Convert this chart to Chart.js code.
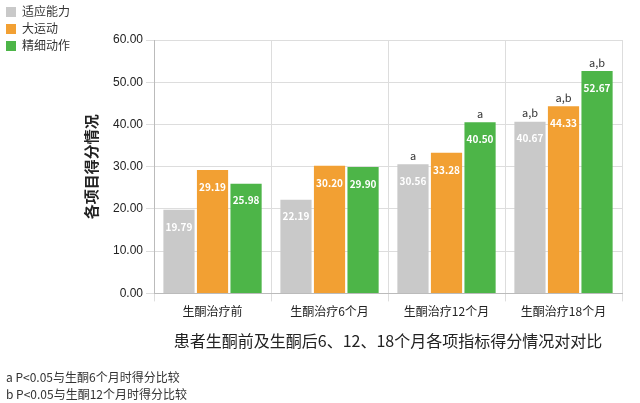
<!DOCTYPE html>
<html><head><meta charset="utf-8">
<script src="https://cdn.jsdelivr.net/npm/chart.js@4"></script>
<style>
body{margin:0;background:#fff;font-family:"Noto Sans CJK SC",sans-serif;}
#wrap{position:relative;width:640px;height:403px;}
#legend{position:absolute;left:6px;top:2px;font-size:12px;color:#333;line-height:17px;}
#legend span{display:inline-block;width:10px;height:10px;margin-right:6px;vertical-align:-1px;}
#notes{position:absolute;left:6px;top:368px;font-size:12px;color:#333;line-height:17px;}
</style></head>
<body><div id="wrap">
<canvas id="c" width="640" height="403"></canvas>
<div id="legend">
<div><span style="background:#c9c9c9"></span>适应能力</div>
<div><span style="background:#f2a033"></span>大运动</div>
<div><span style="background:#4db548"></span>精细动作</div>
</div>
<div id="notes">a P&lt;0.05与生酮6个月时得分比较<br>b P&lt;0.05与生酮12个月时得分比较</div>
</div>
<script>
var categories = ['生酮治疗前', '生酮治疗6个月', '生酮治疗12个月', '生酮治疗18个月'];
var adapt = [19.79, 22.19, 30.56, 40.67];
var motor = [29.19, 30.20, 33.28, 44.33];
var fine = [25.98, 29.90, 40.50, 52.67];
var sigAdapt = ['', '', 'a', 'a,b'];
var sigMotor = ['', '', '', 'a,b'];
var sigFine = ['', '', 'a', 'a,b'];
var yTicks = [0, 10, 20, 30, 40, 50, 60];

var labelPlugin = {
  id: 'labels',
  afterDatasetsDraw: function(chart) {
    var ctx = chart.ctx;
    var sigs = [sigAdapt, sigMotor, sigFine];
    chart.data.datasets.forEach(function(ds, i) {
      chart.getDatasetMeta(i).data.forEach(function(bar, j) {
        ctx.save();
        ctx.textAlign = 'center';
        ctx.fillStyle = '#fff';
        ctx.font = 'bold 10px "Noto Sans CJK SC"';
        ctx.textBaseline = 'top';
        ctx.fillText(ds.data[j].toFixed(2), bar.x, bar.y + 12);
        ctx.fillStyle = '#333';
        ctx.font = '11px "Noto Sans CJK SC"';
        ctx.textBaseline = 'bottom';
        ctx.fillText(sigs[i][j], bar.x, bar.y - 3);
        ctx.restore();
      });
    });
  }
};

new Chart(document.getElementById('c'), {
  type: 'bar',
  data: {
    labels: categories,
    datasets: [
      {label: '适应能力', data: adapt, backgroundColor: '#c9c9c9'},
      {label: '大运动', data: motor, backgroundColor: '#f2a033'},
      {label: '精细动作', data: fine, backgroundColor: '#4db548'}
    ]
  },
  options: {
    responsive: false,
    animation: false,
    layout: {padding: {top: 40, right: 18, left: 78, bottom: 48}},
    plugins: {legend: {display: false}, tooltip: {enabled: false}},
    datasets: {bar: {categoryPercentage: 0.86, barPercentage: 0.93}},
    scales: {
      x: {
        grid: {color: '#ddd', offset: true},
        border: {color: '#bbb'},
        ticks: {color: '#222', font: {size: 12, family: 'Noto Sans CJK SC'}},
        title: {display: true, text: '患者生酮前及生酮后6、12、18个月各项指标得分情况对对比', color: '#222', font: {size: 16, family: 'Noto Sans CJK SC'}, padding: {top: 10}}
      },
      y: {
        min: 0, max: 60,
        afterBuildTicks: function(a) { a.ticks = yTicks.map(function(v){return {value: v};}); },
        grid: {color: '#ddd'},
        border: {color: '#bbb'},
        ticks: {color: '#222', font: {size: 12}, callback: function(v){return v.toFixed(2);}},
        title: {display: true, text: '各项目得分情况', color: '#222', font: {size: 15, weight: 'bold', family: 'Noto Sans CJK SC'}, padding: {bottom: 10}}
      }
    }
  },
  plugins: [labelPlugin]
});
</script>
</body></html>
